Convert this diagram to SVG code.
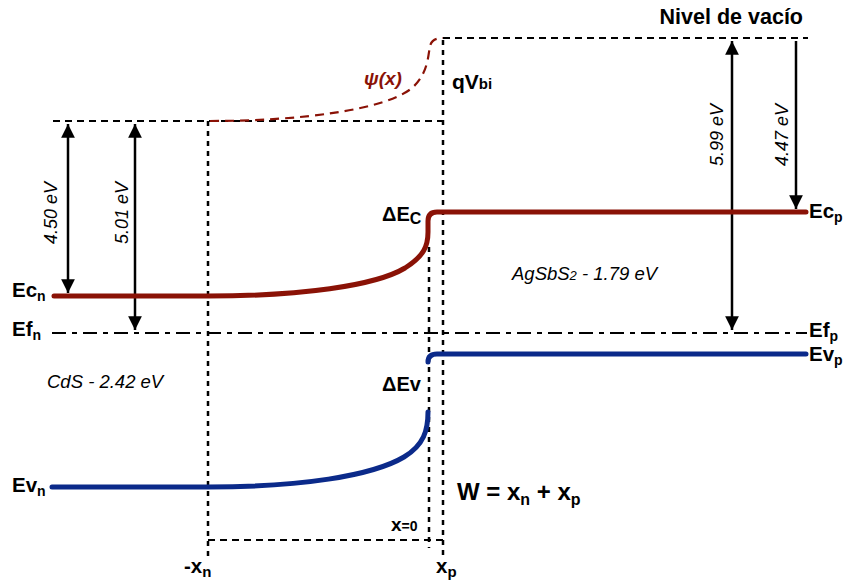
<svg xmlns="http://www.w3.org/2000/svg" width="845" height="580" viewBox="0 0 845 580">
<style>
.t{font-family:"Liberation Sans",Arial,sans-serif;fill:#000}
.b{font-weight:bold}
.i{font-style:italic}
.dash{stroke:#000;stroke-width:2;fill:none;stroke-dasharray:7,5}
.dot{stroke:#000;stroke-width:2.5;fill:none;stroke-dasharray:5,5}
.dd{stroke:#000;stroke-width:2;fill:none;stroke-dasharray:14,6,5,6}
.arr{stroke:#000;stroke-width:2.5;fill:none;marker-start:url(#ah);marker-end:url(#ah)}
.arr1{stroke:#000;stroke-width:2.5;fill:none;marker-end:url(#ah)}
.cb{stroke:#8a1206;stroke-width:5;fill:none;stroke-linecap:round}
.vb{stroke:#0b2a8a;stroke-width:5;fill:none;stroke-linecap:round}
</style>
<defs>
<marker id="ah" viewBox="0 0 10 10" refX="10" refY="5" markerWidth="5.5" markerHeight="5.5" orient="auto-start-reverse" markerUnits="strokeWidth">
<path d="M0,0 L10,5 L0,10 z" fill="#000"/>
</marker>
</defs>
<rect width="845" height="580" fill="#fff"/>
<g id="connectors">
<path class="dash" d="M53,121 H443"/>
<path class="dash" d="M443,38 H808"/>
<path class="dot" d="M443,40 V558"/>
<path class="dot" d="M208,121 V558"/>
<path class="dot" d="M429,247 V548"/>
<path class="dash" d="M208,540 H443"/>
<path class="dd" d="M52,333 H807"/>
<path d="M210,121 C300,121 385,110 412,88 C428,74 428,56 430,46 Q432,38 443,38" stroke="#8a1206" stroke-width="2.2" fill="none" stroke-dasharray="9,6"/>
<path class="arr" d="M68,124 V293"/>
<path class="arr" d="M135,124 V330"/>
<path class="arr" d="M732,41 V330"/>
<path class="arr1" d="M796,41 V209"/>
</g>
<g id="Ec">
<path class="cb" d="M54,296 L208,296 C300,296 375,286 405,268 C424,256 428,246 428,232 L428,221 Q428,212 437,212 L806,212"/>
</g>
<g id="Ev">
<path class="vb" d="M52,487 L208,487 C300,487 372,476 404,457 C424,445 428,430 428,412"/>
<path class="vb" d="M428,362 Q428,354 437,354 L806,354"/>
</g>
<g id="labels">
<text class="t b" x="12" y="297" font-size="20.5">Ec<tspan font-size="14" dy="4">n</tspan></text>
<text class="t b" x="12" y="336" font-size="20.5">Ef<tspan font-size="14" dy="4">n</tspan></text>
<text class="t b" x="12" y="492" font-size="20.5">Ev<tspan font-size="14" dy="4">n</tspan></text>
<text class="t b" x="809" y="218" font-size="20.5">Ec<tspan font-size="14" dy="4">p</tspan></text>
<text class="t b" x="809" y="337" font-size="20.5">Ef<tspan font-size="14" dy="4">p</tspan></text>
<text class="t b" x="809" y="361" font-size="20.5">Ev<tspan font-size="14" dy="4">p</tspan></text>
<text class="t b" x="803" y="24" font-size="21.5" text-anchor="end">Nivel de vacío</text>
<text class="t b i" x="364" y="85" font-size="19" style="fill:#8a1206">ψ(x)</text>
<text class="t b" x="452" y="89" font-size="21">qV<tspan font-size="15">bi</tspan></text>
<text class="t b" x="382" y="221" font-size="20">ΔE<tspan font-size="16" dy="3">C</tspan></text>
<text class="t b" x="382" y="391" font-size="20">ΔEv</text>
<text class="t i" x="512" y="280" font-size="18.5">AgSbS<tspan font-size="13">2</tspan> - 1.79 eV</text>
<text class="t i" x="47" y="388" font-size="18.5">CdS - 2.42 eV</text>
<text class="t i" font-size="18" text-anchor="middle" transform="translate(57,213) rotate(-90)">4.50 eV</text>
<text class="t i" font-size="18" text-anchor="middle" transform="translate(128,213) rotate(-90)">5.01 eV</text>
<text class="t i" font-size="18" text-anchor="middle" transform="translate(723,135) rotate(-90)">5.99 eV</text>
<text class="t i" font-size="18" text-anchor="middle" transform="translate(788,135) rotate(-90)">4.47 eV</text>
<text class="t b" x="457" y="500" font-size="24">W = x<tspan font-size="16" dy="5">n</tspan><tspan dy="-5"> + x</tspan><tspan font-size="16" dy="5">p</tspan></text>
<text class="t b" x="391" y="531" font-size="19">x<tspan font-size="14">=0</tspan></text>
<text class="t b" x="184" y="573" font-size="20.5">-x<tspan font-size="15" dy="4">n</tspan></text>
<text class="t b" x="436" y="573" font-size="20.5">x<tspan font-size="15" dy="4">p</tspan></text>
</g>
</svg>
